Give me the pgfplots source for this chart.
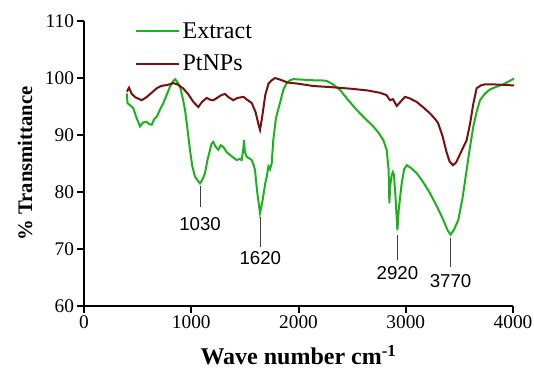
\documentclass[border=0pt]{standalone}
\usepackage{pgfplots}
\pgfplotsset{compat=1.18}
\usepackage{fontspec}
\setmainfont{Liberation Serif}
\newfontfamily\arial{Liberation Sans}
\definecolor{extgreen}{RGB}{28,178,28}
\definecolor{ptred}{RGB}{122,16,16}
\begin{document}
\begin{tikzpicture}
\begin{axis}[
  scale only axis,
  width=321.75pt, height=213.75pt,
  xmin=0, xmax=4000, ymin=60, ymax=110,
  axis lines=left,
  axis line style={-, line width=1.6pt},
  xtick={0,1000,2000,3000,4000},
  ytick={60,70,80,90,100,110},
  tick align=outside,
  major tick length=5pt,
  tick style={line width=1.5pt, black},
  /pgf/number format/assume math mode=true,
  /pgf/number format/1000 sep={},
  tick label style={font=\fontsize{14.5}{16}\selectfont},
  xticklabel style={yshift=1pt},
  yticklabel style={xshift=1pt},
  xlabel={\textbf{Wave number cm\textsuperscript{-1}}},
  ylabel={\textbf{\% Transmittance}},
  xlabel style={font=\fontsize{18}{20}\selectfont, at={(axis description cs:0.5,-0.172)}, anchor=center},
  ylabel style={font=\fontsize{15.5}{17}\selectfont, at={(axis description cs:-0.1375,0.5)}, anchor=center, rotate=0},
  legend style={draw=none, fill=none, at={(axis description cs:0.119,1.005)}, anchor=north west, inner sep=0pt,
    font=\fontsize{18}{20}\selectfont, row sep=7pt, cells={anchor=west}},
  legend image code/.code={\draw[#1, line width=1.5pt] (0pt,0pt) -- (24pt,0pt); \path (0pt,0pt) -- (32pt,0pt);},
  clip=false,
]
\addplot[extgreen, line width=1.5pt] coordinates {
(400,97.3) (405,95.6) (430,95.2) (460,94.7) (490,93.0) (522,91.5) (550,92.2) (584,92.3)
(610,91.9) (631,91.8) (655,92.8) (678,93.2) (710,94.5) (740,95.6) (770,97.0) (802,98.5)
(830,99.4) (849,99.8) (870,99.3) (895,98.5) (920,96.5) (942,94.4) (965,91.0) (988,87.4)
(1010,84.5) (1035,82.7) (1060,82.0) (1082,81.5) (1105,82.2) (1128,83.3) (1150,85.5)
(1175,87.4) (1190,88.5) (1206,88.8) (1225,88.0) (1252,87.4) (1275,88.2) (1299,87.9)
(1330,87.0) (1361,86.5) (1395,86.0) (1424,85.6) (1450,85.8) (1470,85.6) (1485,87.5)
(1492,89.1) (1500,87.0) (1517,86.2) (1540,85.9) (1564,85.6) (1580,84.8) (1594,83.9)
(1615,80.0) (1641,76.3) (1665,78.5) (1690,81.5) (1704,82.7) (1720,84.5) (1735,84.0)
(1750,85.0) (1765,89.1) (1790,93.0) (1827,95.6) (1860,98.0) (1890,99.1) (1920,99.6)
(1952,99.8) (2050,99.7) (2138,99.6) (2200,99.6) (2262,99.5) (2320,98.9) (2387,97.9)
(2460,96.2) (2542,94.4) (2620,92.9) (2697,91.5) (2750,90.3) (2791,89.1) (2822,87.4)
(2840,84.0) (2847,78.0) (2855,81.0) (2869,83.0) (2880,83.5) (2890,83.0) (2905,79.0)
(2922,73.3) (2935,77.0) (2962,81.5) (2985,84.0) (3009,84.7) (3050,84.2) (3102,83.3)
(3160,81.8) (3226,79.8) (3290,77.5) (3350,75.1) (3390,73.3) (3418,72.5) (3450,73.4)
(3490,75.1) (3530,79.0) (3568,83.9) (3600,88.0) (3630,91.5) (3660,94.0) (3692,96.1)
(3740,97.3) (3786,98.0) (3850,98.5) (3910,98.9) (3960,99.4) (4010,99.9)
};
\addlegendentry{Extract}
\addplot[ptred, line width=1.5pt] coordinates {
(400,97.6) (420,98.3) (445,97.2) (480,96.6) (538,96.1) (580,96.6) (630,97.4) (678,98.2)
(720,98.6) (780,98.8) (830,99.1) (870,98.9) (923,98.2) (970,97.2) (1020,95.8) (1066,94.9)
(1100,95.8) (1144,96.5) (1175,96.2) (1206,96.1) (1240,96.5) (1280,97.0) (1315,97.2)
(1350,96.6) (1392,96.1) (1430,96.5) (1460,96.6) (1486,96.7) (1520,96.2) (1564,95.6)
(1600,94.0) (1625,92.0) (1641,90.9) (1660,93.0) (1690,97.0) (1720,99.0) (1750,99.6)
(1781,100.0) (1830,99.7) (1900,99.2) (2000,99.0) (2135,98.6) (2300,98.4) (2500,98.1)
(2650,97.8) (2760,97.4) (2820,97.0) (2853,96.1) (2880,96.3) (2916,95.1) (2950,95.8)
(2993,96.7) (3040,96.4) (3102,95.8) (3160,94.9) (3220,93.9) (3270,92.9) (3301,92.1)
(3340,90.0) (3380,87.0) (3410,85.3) (3441,84.7) (3470,85.2) (3510,86.8) (3540,88.0)
(3568,89.1) (3600,92.0) (3630,95.5) (3661,98.2) (3700,98.7) (3739,98.9) (3800,98.9)
(3900,98.8) (4010,98.7)
};
\addlegendentry{PtNPs}
% annotation leaders and labels
\draw[black!75, line width=0.6pt] (axis cs:1082,81.0) -- (axis cs:1082,77.4);
\node[font=\arial\fontsize{14}{16}\selectfont] at (axis cs:1082,74.3) {1030};
\draw[black!75, line width=0.6pt] (axis cs:1644,75.7) -- (axis cs:1644,70.4);
\node[font=\arial\fontsize{14}{16}\selectfont] at (axis cs:1644,68.4) {1620};
\draw[black!75, line width=0.6pt] (axis cs:2922,72.5) -- (axis cs:2922,68.1);
\node[font=\arial\fontsize{14}{16}\selectfont] at (axis cs:2922,65.7) {2920};
\draw[black!75, line width=0.6pt] (axis cs:3418,71.9) -- (axis cs:3418,66.9);
\node[font=\arial\fontsize{14}{16}\selectfont] at (axis cs:3418,64.4) {3770};
\end{axis}
\pgfresetboundingbox
\useasboundingbox (current axis.south west) ++(-63pt,-54pt) rectangle ++(400.5pt,283.5pt);
\end{tikzpicture}
\end{document}
